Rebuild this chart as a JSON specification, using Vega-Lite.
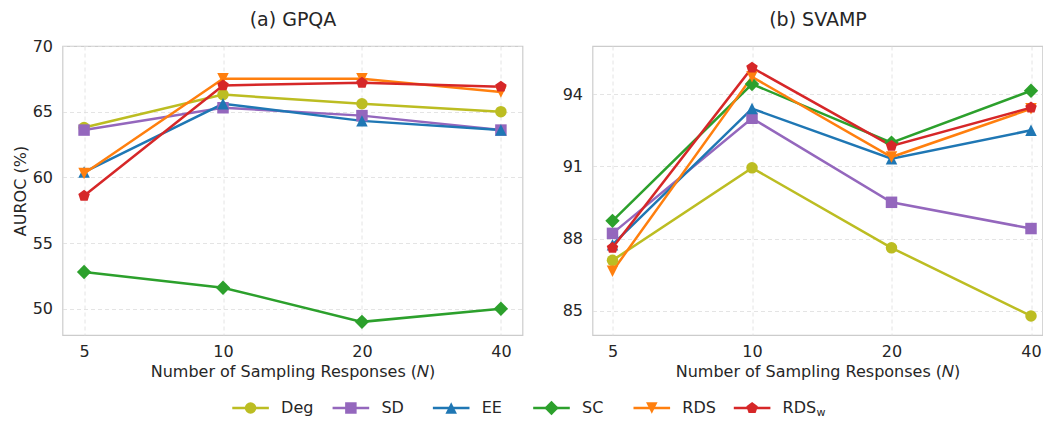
{
  "$schema": "https://vega.github.io/schema/vega-lite/v6.json",
  "padding": {"left": 11.5, "top": 9, "right": 0, "bottom": 0},
  "spacing": 18,
  "config": {
    "font": "DejaVu Sans",
    "view": {"stroke": "#cccccc", "strokeWidth": 1.2},
    "axis": {
      "labelFont": "DejaVu Sans", "labelFontSize": 16, "labelColor": "#262626",
      "titleFont": "DejaVu Sans", "titleFontSize": 16, "titleColor": "#262626", "titleFontWeight": "normal",
      "domain": false, "ticks": false, "gridColor": "#dddddd", "gridDash": [4, 3], "gridWidth": 0.8, "labelPadding": 10
    },
    "axisX": {"labelPadding": 8}
  },
  "datasets": {
    "gpqa": [
      {"method": "Deg", "N": 5, "auroc": 63.8}, {"method": "Deg", "N": 10, "auroc": 66.3}, {"method": "Deg", "N": 20, "auroc": 65.6}, {"method": "Deg", "N": 40, "auroc": 65.0},
      {"method": "SD", "N": 5, "auroc": 63.6}, {"method": "SD", "N": 10, "auroc": 65.3}, {"method": "SD", "N": 20, "auroc": 64.7}, {"method": "SD", "N": 40, "auroc": 63.6},
      {"method": "EE", "N": 5, "auroc": 60.4}, {"method": "EE", "N": 10, "auroc": 65.6}, {"method": "EE", "N": 20, "auroc": 64.3}, {"method": "EE", "N": 40, "auroc": 63.6},
      {"method": "SC", "N": 5, "auroc": 52.8}, {"method": "SC", "N": 10, "auroc": 51.6}, {"method": "SC", "N": 20, "auroc": 49.0}, {"method": "SC", "N": 40, "auroc": 50.0},
      {"method": "RDS", "N": 5, "auroc": 60.3}, {"method": "RDS", "N": 10, "auroc": 67.5}, {"method": "RDS", "N": 20, "auroc": 67.5}, {"method": "RDS", "N": 40, "auroc": 66.5},
      {"method": "RDSw", "N": 5, "auroc": 58.6}, {"method": "RDSw", "N": 10, "auroc": 67.0}, {"method": "RDSw", "N": 20, "auroc": 67.2}, {"method": "RDSw", "N": 40, "auroc": 66.9}
    ],
    "svamp": [
      {"method": "Deg", "N": 5, "auroc": 87.1}, {"method": "Deg", "N": 10, "auroc": 90.94}, {"method": "Deg", "N": 20, "auroc": 87.62}, {"method": "Deg", "N": 40, "auroc": 84.79},
      {"method": "SD", "N": 5, "auroc": 88.22}, {"method": "SD", "N": 10, "auroc": 93.0}, {"method": "SD", "N": 20, "auroc": 89.51}, {"method": "SD", "N": 40, "auroc": 88.42},
      {"method": "EE", "N": 5, "auroc": 87.75}, {"method": "EE", "N": 10, "auroc": 93.4}, {"method": "EE", "N": 20, "auroc": 91.32}, {"method": "EE", "N": 40, "auroc": 92.5},
      {"method": "SC", "N": 5, "auroc": 88.74}, {"method": "SC", "N": 10, "auroc": 94.42}, {"method": "SC", "N": 20, "auroc": 91.99}, {"method": "SC", "N": 40, "auroc": 94.14},
      {"method": "RDS", "N": 5, "auroc": 86.65}, {"method": "RDS", "N": 10, "auroc": 94.72}, {"method": "RDS", "N": 20, "auroc": 91.39}, {"method": "RDS", "N": 40, "auroc": 93.39},
      {"method": "RDSw", "N": 5, "auroc": 87.62}, {"method": "RDSw", "N": 10, "auroc": 95.1}, {"method": "RDSw", "N": 20, "auroc": 91.85}, {"method": "RDSw", "N": 40, "auroc": 93.44}
    ],
    "legend": [
      {"method": "Deg", "label": "Deg"}, {"method": "SD", "label": "SD"}, {"method": "EE", "label": "EE"},
      {"method": "SC", "label": "SC"}, {"method": "RDS", "label": "RDS"}, {"method": "RDSw", "label": "RDS", "sub": "w"}
    ]
  },
  "vconcat": [
    {
      "bounds": "flush",
      "spacing": 70,
      "hconcat": [
        {
          "width": 460, "height": 289,
          "data": {"name": "gpqa"},
          "encoding": {
            "y": {"field": "auroc", "type": "quantitative", "scale": {"domain": [48, 70], "nice": false, "zero": false},
                  "axis": {"values": [50, 55, 60, 65, 70], "title": "AUROC (%)"}},
            "color": {"field": "method", "type": "nominal",
                      "scale": {"domain": ["Deg", "SD", "EE", "SC", "RDS", "RDSw"], "range": ["#bcbd22", "#9467bd", "#1f77b4", "#2ca02c", "#ff7f0e", "#d62728"]},
                      "legend": null}
          },
          "layer": [
            {"mark": {"type": "line", "strokeWidth": 2.5},
             "encoding": {"x": {"field": "N", "type": "quantitative", "scale": {"type": "log", "base": 2, "domain": [4.49, 44.55], "nice": false},
                  "axis": {"values": [5, 10, 20, 40], "format": "d", "title": "Number of Sampling Responses (𝑁)"}}}},
            {"mark": {"type": "point", "filled": true, "opacity": 1, "size": 132, "strokeWidth": 0},
             "encoding": {
               "x": {"field": "N", "type": "quantitative", "scale": {"type": "log", "base": 2, "domain": [4.49, 44.55], "nice": false},
                  "axis": {"orient": "top", "labels": false, "grid": false, "title": "(a) GPQA", "titleFontSize": 19, "titlePadding": 17}},
               "shape": {"field": "method", "type": "nominal",
               "scale": {"domain": ["Deg", "SD", "EE", "SC", "RDS", "RDSw"],
                         "range": ["circle", "square", "M0,-1L1,1L-1,1Z", "M0,-1.25L1.25,0L0,1.25L-1.25,0Z", "M-1,-1L1,-1L0,1Z", "M0,-1.05L0.999,-0.324L0.617,0.849L-0.617,0.849L-0.999,-0.324Z"]},
               "legend": null}}}
          ],
          "resolve": {"axis": {"x": "independent"}}
        },
        {
          "width": 450, "height": 289,
          "data": {"name": "svamp"},
          "encoding": {
            "y": {"field": "auroc", "type": "quantitative", "scale": {"domain": [84, 96], "nice": false, "zero": false},
                  "axis": {"values": [85, 88, 91, 94], "title": null}},
            "color": {"field": "method", "type": "nominal",
                      "scale": {"domain": ["Deg", "SD", "EE", "SC", "RDS", "RDSw"], "range": ["#bcbd22", "#9467bd", "#1f77b4", "#2ca02c", "#ff7f0e", "#d62728"]},
                      "legend": null}
          },
          "layer": [
            {"mark": {"type": "line", "strokeWidth": 2.5},
             "encoding": {"x": {"field": "N", "type": "quantitative", "scale": {"type": "log", "base": 2, "domain": [4.527, 42.35], "nice": false},
                  "axis": {"values": [5, 10, 20, 40], "format": "d", "title": "Number of Sampling Responses (𝑁)"}}}},
            {"mark": {"type": "point", "filled": true, "opacity": 1, "size": 132, "strokeWidth": 0},
             "encoding": {
               "x": {"field": "N", "type": "quantitative", "scale": {"type": "log", "base": 2, "domain": [4.527, 42.35], "nice": false},
                  "axis": {"orient": "top", "labels": false, "grid": false, "title": "(b) SVAMP", "titleFontSize": 19, "titlePadding": 17}},
               "shape": {"field": "method", "type": "nominal",
               "scale": {"domain": ["Deg", "SD", "EE", "SC", "RDS", "RDSw"],
                         "range": ["circle", "square", "M0,-1L1,1L-1,1Z", "M0,-1.25L1.25,0L0,1.25L-1.25,0Z", "M-1,-1L1,-1L0,1Z", "M0,-1.05L0.999,-0.324L0.617,0.849L-0.617,0.849L-0.999,-0.324Z"]},
               "legend": null}}}
          ],
          "resolve": {"axis": {"x": "independent"}}
        }
      ]
    },
    {
      "width": 689.6, "height": 20,
      "view": {"stroke": null},
      "data": {"name": "legend"},
      "encoding": {
        "x": {"field": "method", "type": "nominal", "sort": ["Deg", "SD", "EE", "SC", "RDS", "RDSw"], "scale": {"type": "point", "padding": 0.9375, "align": 1}, "axis": null},
        "color": {"field": "method", "type": "nominal",
                  "scale": {"domain": ["Deg", "SD", "EE", "SC", "RDS", "RDSw"], "range": ["#bcbd22", "#9467bd", "#1f77b4", "#2ca02c", "#ff7f0e", "#d62728"]},
                  "legend": null}
      },
      "layer": [
        {"mark": {"type": "point", "shape": "stroke", "size": 1340, "strokeWidth": 2.5, "filled": false, "opacity": 1}},
        {"mark": {"type": "point", "filled": true, "opacity": 1, "size": 132, "strokeWidth": 0},
         "encoding": {"shape": {"field": "method", "type": "nominal",
           "scale": {"domain": ["Deg", "SD", "EE", "SC", "RDS", "RDSw"],
                     "range": ["circle", "square", "M0,-1L1,1L-1,1Z", "M0,-1.25L1.25,0L0,1.25L-1.25,0Z", "M-1,-1L1,-1L0,1Z", "M0,-1.05L0.999,-0.324L0.617,0.849L-0.617,0.849L-0.999,-0.324Z"]},
           "legend": null}}},
        {"mark": {"type": "text", "align": "left", "baseline": "middle", "dx": 30.5, "fontSize": 16, "font": "DejaVu Sans"},
         "encoding": {"text": {"field": "label"}, "color": {"value": "#262626"}}},
        {"transform": [{"filter": "isValid(datum.sub)"}],
         "mark": {"type": "text", "align": "left", "baseline": "middle", "dx": 64.5, "dy": 5, "fontSize": 11, "font": "DejaVu Sans"},
         "encoding": {"text": {"field": "sub"}, "color": {"value": "#262626"}}}
      ]
    }
  ]
}
